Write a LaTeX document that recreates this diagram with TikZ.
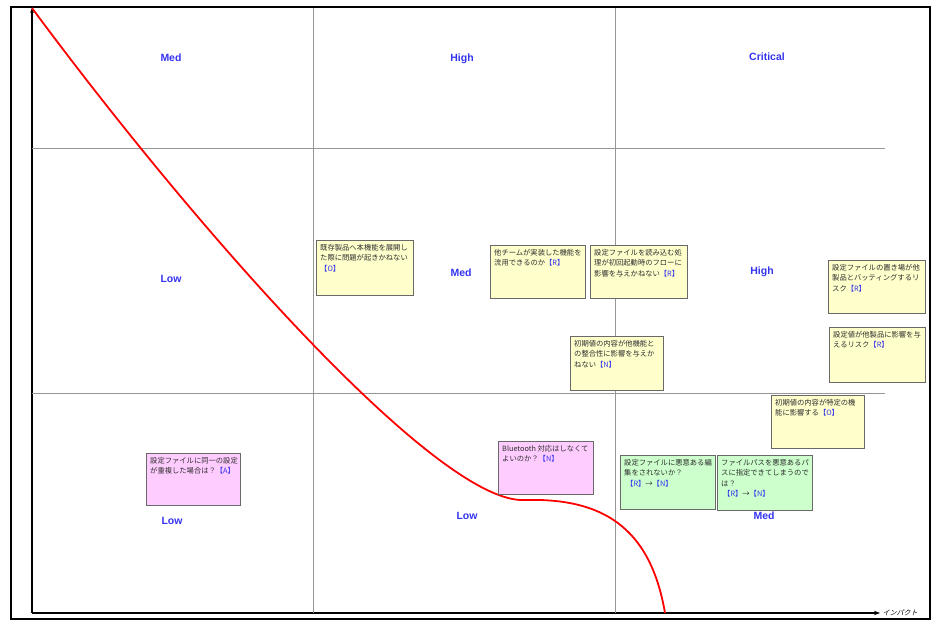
\documentclass[tikz,border=0pt]{standalone}
\usepackage{fontspec}
\setmainfont{Liberation Sans}
\newfontfamily\jpfont{Noto Sans CJK JP}
\newfontfamily\jpslant[FakeSlant=0.25]{Noto Sans CJK JP}
\definecolor{curve}{RGB}{255,0,0}
\definecolor{grade}{RGB}{51,51,240}
\definecolor{gridc}{RGB}{150,150,150}
\definecolor{notey}{RGB}{255,255,204}
\definecolor{notep}{RGB}{255,204,255}
\definecolor{noteg}{RGB}{204,255,204}
\definecolor{noteedge}{RGB}{105,105,105}
\definecolor{notetxt}{RGB}{45,45,45}
\usetikzlibrary{arrows.meta,positioning}
\newcommand{\rtag}[1]{\textcolor{grade}{【#1】}}
% #1 name, #2 top-left, #3 width, #4 height, #5 fill, #6 text
\newcommand{\risknote}[6]{%
  \node[notebox,fill=#5,minimum width=#3,minimum height=#4,anchor=north west] (#1) at (#2) {};
  \node[notetext,anchor=north west] (#1-t) at ([shift={(3pt,-3pt)}]#1.north west) {#6};}

\begin{document}
\begin{tikzpicture}[x=1pt,y=-1pt,
    grade/.style={font=\bfseries\fontsize{10.5}{12}\selectfont,text=grade},
    notebox/.style={draw=noteedge,line width=1pt,inner sep=0pt},
    notetext/.style={font=\jpfont\fontsize{7.3}{10.5}\selectfont,text=notetxt,align=left,inner sep=1pt},
    gridline/.style={gridc,line width=0.8pt}]
  \useasboundingbox (0,0) rectangle (932,623);
  % outer frame
  \draw[line width=1.2pt] (11,7) rectangle (930,619);
  % axes
  \coordinate (origin) at (32,613);
  \coordinate (ytop) at (32,8);
  \coordinate (xend) at (880,613);
  \draw[line width=1.3pt,-{Stealth[length=5pt]}] (origin) -- (ytop);
  \draw[line width=1.3pt,-{Stealth[length=6pt]}] (origin) -- (xend)
    node[right,inner sep=2pt,font=\jpslant\fontsize{7}{7}\selectfont] (xlabel) {インパクト};
  % grid
  \draw[gridline] (313,8) -- (313,613);
  \draw[gridline] (615,8) -- (615,613);
  \draw[gridline] (32,148) -- (885,148);
  \draw[gridline] (32,393) -- (885,393);
  % grades
  \node[grade] (g11) at (171,58) {Med};
  \node[grade] (g12) at (462,59) {High};
  \node[grade] (g13) at (767,57) {Critical};
  \node[grade] (g21) at (171,279) {Low};
  \node[grade] (g22) at (461,273) {Med};
  \node[grade] (g23) at (762,272) {High};
  \node[grade] (g31) at (172,521) {Low};
  \node[grade] (g32) at (467,516) {Low};
  \node[grade] (g33) at (764,516) {Med};
  % tolerance curve
  \draw[curve,line width=1.8pt] (ytop) .. controls (200,235) and (440,505) .. (525,500)
    .. controls (600,498) and (650,525) .. (665,613);
  % notes
  \risknote{nExpand}{316,240}{97pt}{55pt}{notey}{既存製品へ本機能を展開し\\た際に問題が起きかねない\\\rtag{O}}
  \risknote{nReuse}{490,245}{95pt}{53pt}{notey}{他チームが実装した機能を\\流用できるのか\rtag{R}}
  \risknote{nBoot}{590,245}{97pt}{53pt}{notey}{設定ファイルを読み込む処\\理が初回起動時のフローに\\影響を与えかねない\rtag{R}}
  \risknote{nPlace}{828,260}{97pt}{53pt}{notey}{設定ファイルの置き場が他\\製品とバッティングするリ\\スク\rtag{R}}
  \risknote{nValue}{829,327}{96pt}{55pt}{notey}{設定値が他製品に影響を与\\えるリスク\rtag{R}}
  \risknote{nConsist}{570,336}{93pt}{54pt}{notey}{初期値の内容が他機能と\\の整合性に影響を与えか\\ねない\rtag{N}}
  \risknote{nSpecific}{771,395}{93pt}{53pt}{notey}{初期値の内容が特定の機\\能に影響する\rtag{O}}
  \risknote{nDup}{146,453}{94pt}{52pt}{notep}{設定ファイルに同一の設定\\が重複した場合は？\rtag{A}}
  \risknote{nBt}{498,441}{95pt}{53pt}{notep}{Bluetooth 対応はしなくて\\よいのか？\rtag{N}}
  \risknote{nEdit}{620,455}{95pt}{54pt}{noteg}{設定ファイルに悪意ある編\\集をされないか？\\\hspace{2pt}\rtag{R}→\rtag{N}}
  \risknote{nPath}{717,455}{95pt}{55pt}{noteg}{ファイルパスを悪意あるパ\\スに指定できてしまうので\\は？\\\hspace{2pt}\rtag{R}→\rtag{N}}
\end{tikzpicture}
\end{document}
